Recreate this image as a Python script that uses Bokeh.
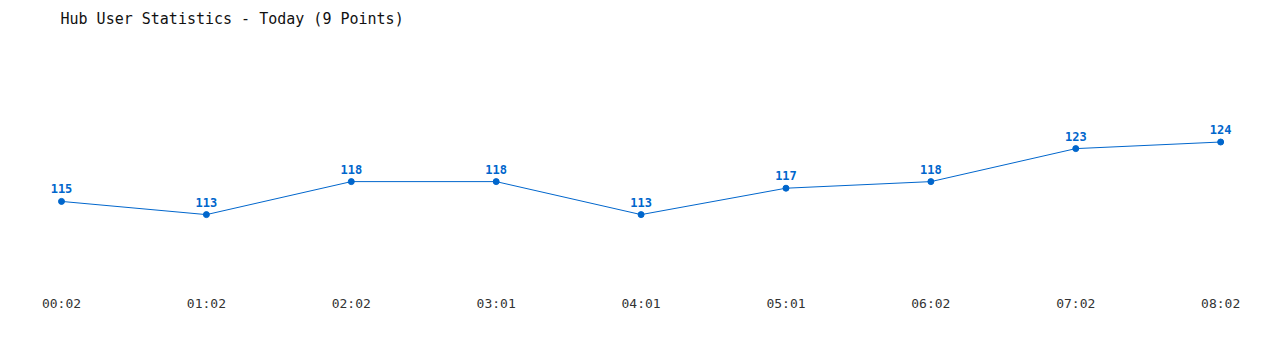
from bokeh.plotting import figure
from bokeh.models import ColumnDataSource, Range1d, FixedTicker
from bokeh.core.properties import value
from bokeh.embed import file_html
from bokeh.resources import INLINE

times = ["00:02", "01:02", "02:02", "03:01", "04:01", "05:01", "06:02", "07:02", "08:02"]
users = [115, 113, 118, 118, 113, 117, 118, 123, 124]

xs = list(range(len(times)))
src = ColumnDataSource(dict(x=xs, y=users, label=[str(u) for u in users]))

FONT = "DejaVu Sans Mono"
BLUE = "#0066cc"

p = figure(width=1280, height=350, output_backend="svg", toolbar_location=None,
           x_range=Range1d(-0.421, 8.413), y_range=Range1d(101.5, 140.9),
           min_border_left=0, min_border_right=0, min_border_top=30, min_border_bottom=60,
           title="Hub User Statistics - Today (9 Points)")
p.outline_line_color = None
p.grid.visible = False
p.yaxis.visible = False

p.title.text_font = FONT
p.title.text_font_size = "15px"
p.title.text_font_style = "normal"
p.title.text_color = "#111111"
p.title.offset = 60
p.title.standoff = 6

ax = p.xaxis[0]
ax.ticker = FixedTicker(ticks=xs)
ax.major_label_overrides = {i: t for i, t in enumerate(times)}
ax.axis_line_color = None
ax.major_tick_line_color = None
ax.minor_tick_line_color = None
ax.major_tick_out = 0
ax.major_tick_in = 0
ax.major_label_text_font = FONT
ax.major_label_text_font_size = "13px"
ax.major_label_text_color = "#333333"
ax.major_label_standoff = 5

p.line("x", "y", source=src, line_color=BLUE, line_width=1)
p.scatter("x", "y", source=src, size=6, fill_color=BLUE, line_color=BLUE)
p.text("x", "y", text="label", source=src, text_font=value(FONT), text_font_size="12px",
       text_font_style="bold", text_color=BLUE, text_align="center",
       text_baseline="bottom", y_offset=-8)

open("out.html", "w").write(file_html(p, INLINE))
